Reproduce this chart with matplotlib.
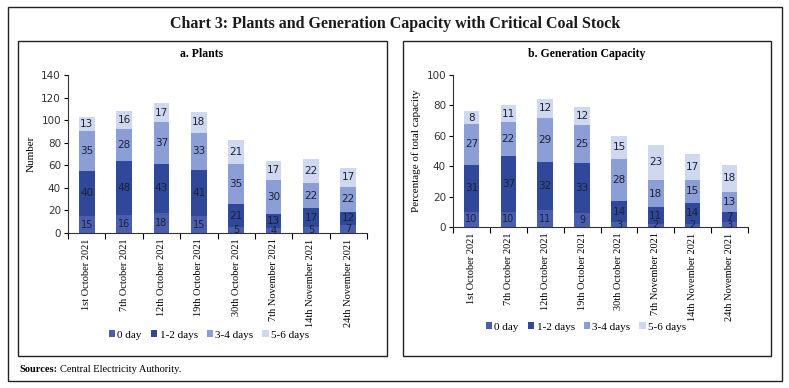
import matplotlib
matplotlib.use("Agg")
import matplotlib.pyplot as plt
import numpy as np
from matplotlib.patches import Rectangle

categories = ["1st October 2021", "7th October 2021", "12th October 2021", "19th October 2021",
              "30th October 2021", "7th November 2021", "14th November 2021", "24th November 2021"]
series_names = ["0 day", "1-2 days", "3-4 days", "5-6 days"]

plants_0day = [15, 16, 18, 15, 5, 4, 5, 7]
plants_12 = [40, 48, 43, 41, 21, 13, 17, 12]
plants_34 = [35, 28, 37, 33, 35, 30, 22, 22]
plants_56 = [13, 16, 17, 18, 21, 17, 22, 17]

cap_0day = [10, 10, 11, 9, 3, 2, 2, 3]
cap_12 = [31, 37, 32, 33, 14, 11, 14, 7]
cap_34 = [27, 22, 29, 25, 28, 18, 15, 13]
cap_56 = [8, 11, 12, 12, 15, 23, 17, 18]

plants_yticks = [0, 20, 40, 60, 80, 100, 120, 140]
cap_yticks = [0, 20, 40, 60, 80, 100]

colors = ["#4a5eaf", "#2f4899", "#8b9ed6", "#cfd8ee"]

W, H = 789, 388
fig = plt.figure(figsize=(W / 100, H / 100), dpi=100)
serif = "Liberation Serif"
sans = "DejaVu Sans"


def fx(px):
    return px / W


def fy(py):
    return 1 - py / H


# frames
fig.patches.append(Rectangle((fx(8), fy(381)), fx(782) - fx(8), fy(7) - fy(381),
                             transform=fig.transFigure, fill=False, ec="#222222", lw=1.0))
fig.patches.append(Rectangle((fx(18), fy(356)), fx(387) - fx(18), fy(41) - fy(356),
                             transform=fig.transFigure, fill=False, ec="#222222", lw=1.0))
fig.patches.append(Rectangle((fx(403), fy(356)), fx(771) - fx(403), fy(41) - fy(356),
                             transform=fig.transFigure, fill=False, ec="#222222", lw=1.0))

fig.text(fx(395), fy(24), "Chart 3: Plants and Generation Capacity with Critical Coal Stock",
         ha="center", va="center", fontsize=11.5, fontweight="bold", family=serif, color="#1a1a1a")
fig.text(fx(202), fy(54), "a. Plants", ha="center", va="center", fontsize=8.5,
         fontweight="bold", family=serif)
fig.text(fx(587), fy(54), "b. Generation Capacity", ha="center", va="center", fontsize=8.5,
         fontweight="bold", family=serif)
fig.text(fx(19), fy(370), "Sources:", ha="left", va="center", fontsize=7.5,
         fontweight="bold", family=serif)
fig.text(fx(60), fy(370), "Central Electricity Authority.", ha="left", va="center",
         fontsize=7.5, family=serif)


def draw(ax, data, yticks, ylabel):
    x = np.arange(len(categories))
    bottom = np.zeros(len(categories))
    for i, (vals, c, name) in enumerate(zip(data, colors, series_names)):
        bars = ax.bar(x, vals, width=0.42, bottom=bottom, color=c, label=name)
        fs = 7.5 if i > 0 else 7.0
        ax.bar_label(bars, labels=[str(v) for v in vals], label_type="center",
                     fontsize=fs, color="#1c2233", family=sans)
        bottom = bottom + np.array(vals)
    ax.set_xlim(-0.5, len(categories) - 0.5)
    ax.set_ylim(yticks[0], yticks[-1])
    ax.set_yticks(yticks)
    ax.set_xticks(x)
    ax.set_xticklabels(categories, rotation=90, fontsize=7.5, family=serif)
    ax.set_xticks(np.arange(-0.5, len(categories) + 0.5, 1), minor=True)
    ax.tick_params(axis="x", which="major", length=0, pad=4)
    ax.tick_params(axis="x", which="minor", length=4, width=0.8, direction="out")
    ax.tick_params(axis="y", length=3, width=0.8, direction="out", labelsize=7.5, pad=2)
    for lab in ax.get_yticklabels():
        lab.set_family(sans)
        lab.set_color("#333333")
    for s in ["top", "right"]:
        ax.spines[s].set_visible(False)
    for s in ["left", "bottom"]:
        ax.spines[s].set_linewidth(0.8)
        ax.spines[s].set_color("#333333")
    ax.set_ylabel(ylabel, fontsize=8, family=serif)


ax1 = fig.add_axes([fx(68), fy(233), fx(367) - fx(68), fy(75) - fy(233)])
draw(ax1, [plants_0day, plants_12, plants_34, plants_56], plants_yticks, "Number")
ax2 = fig.add_axes([fx(453), fy(227), fx(748) - fx(453), fy(75) - fy(227)])
draw(ax2, [cap_0day, cap_12, cap_34, cap_56], cap_yticks, "Percentage of total capacity")

for ax, cx, cy in [(ax1, 209, 335), (ax2, 586, 327)]:
    h, l = ax.get_legend_handles_labels()
    fig.legend(h, l, loc="center", bbox_to_anchor=(fx(cx), fy(cy)), ncol=4, frameon=False,
               prop={"family": serif, "size": 8}, handlelength=0.6, handleheight=0.6,
               handletextpad=0.2, columnspacing=0.8, borderaxespad=0)

fig.savefig("out.png", dpi=100)
